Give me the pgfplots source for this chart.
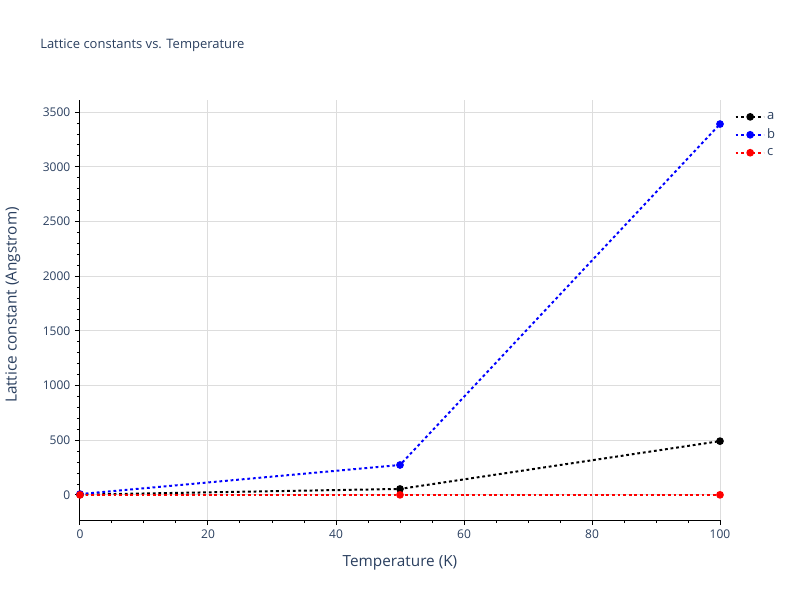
\documentclass[border=0pt]{standalone}
\usepackage{pgfplots}
\pgfplotsset{compat=1.18}
\usepackage{fontspec}
\setmainfont{Open Sans}
\definecolor{plfont}{HTML}{2A3F5F}
\definecolor{plgrid}{HTML}{DDDDDD}
\begin{document}
\begin{tikzpicture}
\begin{axis}[
  scale only axis, width=480pt, height=315pt,
  xmin=0, xmax=100, ymin=-229, ymax=3611,
  axis lines*=left, axis line style={black, line width=0.75pt},
  xtick={0,20,...,100}, ytick={0,500,...,3500},
  minor x tick num=3, minor y tick num=4,
  tick align=outside, tick pos=left,
  major tick length=3.75pt, minor tick length=2.25pt,
  every tick/.style={black, line width=0.75pt},
  grid=major, major grid style={plgrid, line width=0.75pt},
  ticklabel style={font=\fontsize{9}{10}\selectfont, text=plfont},
  /pgf/number format/assume math mode=true,
  /pgf/number format/set thousands separator={},
  xlabel={Temperature (K)}, ylabel={Lattice constant (Angstrom)},
  label style={font=\fontsize{11.5}{13}\selectfont, text=plfont},
  xlabel style={at={(rel axis cs:0.5,-0.102)}, anchor=center},
  ylabel style={at={(rel axis cs:-0.105,0.512)}, anchor=center, rotate=0},
  legend style={at={(rel axis cs:1.016,0.984)}, anchor=north west, draw=none, fill=none,
    font=\fontsize{9.75}{10}\selectfont, text=plfont, row sep=1.6pt},
  legend cell align=left,
  legend image code/.code={\draw[#1] (0pt,0pt) -- (21pt,0pt); \draw[#1, solid] plot coordinates {(11pt,0pt)};},
  every axis plot/.append style={line width=1.5pt, dash pattern=on 2.1pt off 2.1pt, mark=*, mark size=2.1pt, mark options={solid}},
  clip=false,
]
\addplot[black] coordinates {(0,3) (50,55) (100,492)};
\addplot[blue] coordinates {(0,8) (50,274) (100,3391)};
\addplot[red] coordinates {(0,1) (50,1) (100,1)};
\legend{a,b,c}
\node[anchor=west, inner sep=0pt, font=\fontsize{9.75}{11}\selectfont, text=plfont] at (rel axis cs:-0.0625,1.131) {Lattice constants vs. Temperature};
\path (rel axis cs:0,0) ++(-60pt,-60pt) rectangle ++(600pt,450pt);
\end{axis}
\end{tikzpicture}
\end{document}
